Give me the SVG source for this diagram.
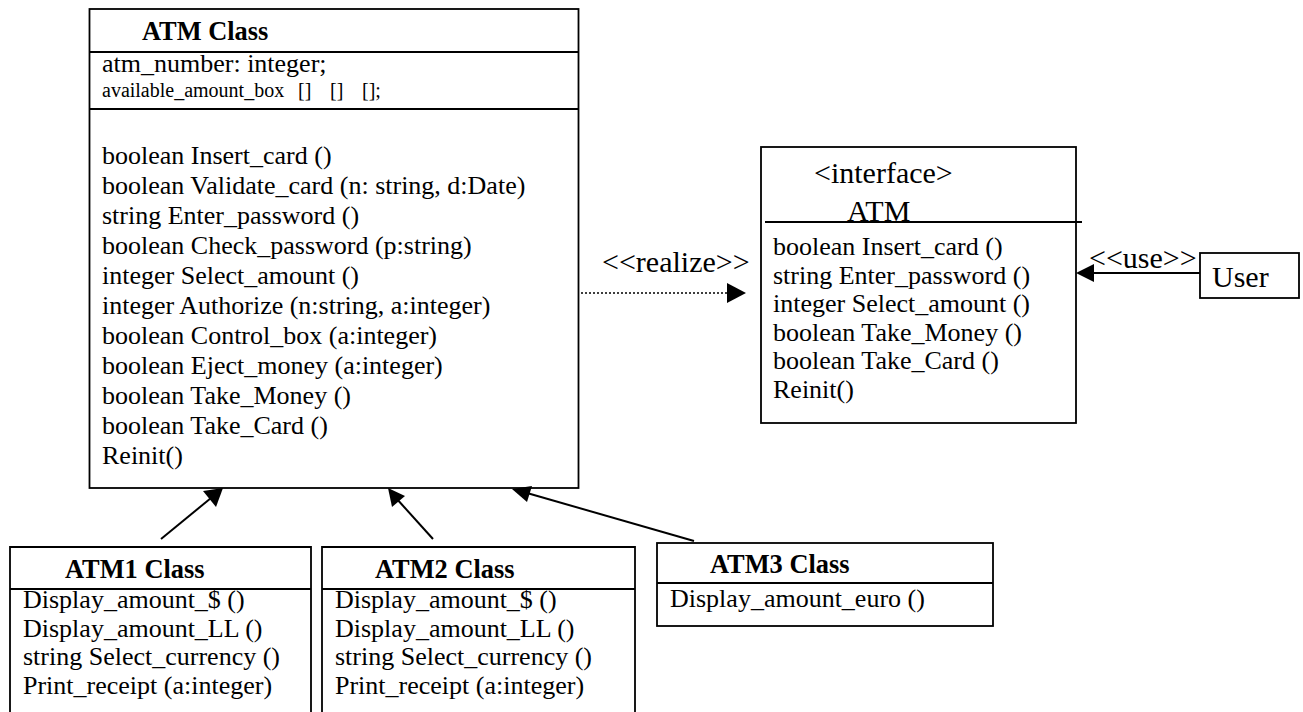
<svg xmlns="http://www.w3.org/2000/svg" width="1303" height="712" viewBox="0 0 1303 712">
  <style>
    text { font-family: "Liberation Serif", "Times New Roman", serif; fill: #000; }
    .t { font-size: 26px; }
    .small { font-size: 20px; }
    .big { font-size: 30px; }
    .title { font-size: 26.4px; font-weight: bold; }
    .box { fill: #fff; stroke: #000; stroke-width: 1.8; }
    .open { fill: none; stroke: #000; stroke-width: 1.8; }
    .rule { stroke: #000; stroke-width: 1.8; }
    .edge { stroke: #000; stroke-width: 2; fill: none; }
    .dotted { stroke: #000; stroke-width: 1.5; stroke-dasharray: 2 2; fill: none; }
    .head { fill: #000; }
  </style>
  <rect width="1303" height="712" fill="#fff"/>

  <!-- abstract ATM class -->
  <g id="atm-class">
    <rect class="box" x="89.5" y="9" width="489" height="479"/>
    <line class="rule" x1="89.5" y1="52" x2="578.5" y2="52"/>
    <line class="rule" x1="89.5" y1="109" x2="578.5" y2="109"/>
    <text class="title" x="142" y="40">ATM Class</text>
    <text class="t" x="102" y="72">atm_number: integer;</text>
    <text class="small" x="102" y="97">available_amount_box <tspan x="298">[]</tspan> <tspan x="330">[]</tspan> <tspan x="362">[];</tspan></text>
    <text class="t" x="102" y="164">boolean Insert_card ()</text>
    <text class="t" x="102" y="194">boolean Validate_card (n: string, d:Date)</text>
    <text class="t" x="102" y="224">string Enter_password ()</text>
    <text class="t" x="102" y="254">boolean Check_password (p:string)</text>
    <text class="t" x="102" y="284">integer Select_amount ()</text>
    <text class="t" x="102" y="314">integer Authorize (n:string, a:integer)</text>
    <text class="t" x="102" y="344">boolean Control_box (a:integer)</text>
    <text class="t" x="102" y="374">boolean Eject_money (a:integer)</text>
    <text class="t" x="102" y="404">boolean Take_Money ()</text>
    <text class="t" x="102" y="434">boolean Take_Card ()</text>
    <text class="t" x="102" y="464">Reinit()</text>
  </g>

  <!-- ATM interface -->
  <g id="atm-interface">
    <rect class="box" x="761" y="147" width="315" height="276"/>
    <line class="rule" x1="765" y1="222" x2="1082" y2="222"/>
    <text class="big" x="814" y="183">&lt;interface&gt;</text>
    <text class="big" x="847" y="221">ATM</text>
    <text class="t" x="773" y="255">boolean Insert_card ()</text>
    <text class="t" x="773" y="283.5">string Enter_password ()</text>
    <text class="t" x="773" y="312">integer Select_amount ()</text>
    <text class="t" x="773" y="340.5">boolean Take_Money ()</text>
    <text class="t" x="773" y="369">boolean Take_Card ()</text>
    <text class="t" x="773" y="397.5">Reinit()</text>
  </g>

  <!-- actor -->
  <g id="user">
    <rect class="box" x="1200" y="253" width="99" height="45"/>
    <text class="big" x="1212" y="287">User</text>
  </g>

  <!-- concrete subclasses -->
  <g id="atm1-class">
    <path class="open" d="M10,720 V547 H311 V720"/>
    <line class="rule" x1="10" y1="589" x2="311" y2="589"/>
    <text class="title" x="65" y="578">ATM1 Class</text>
    <text class="t" x="23" y="608">Display_amount_$ ()</text>
    <text class="t" x="23" y="636.5">Display_amount_LL ()</text>
    <text class="t" x="23" y="665">string Select_currency ()</text>
    <text class="t" x="23" y="693.5">Print_receipt (a:integer)</text>
  </g>

  <g id="atm2-class">
    <path class="open" d="M322,720 V547 H635 V720"/>
    <line class="rule" x1="322" y1="589" x2="635" y2="589"/>
    <text class="title" x="375" y="578">ATM2 Class</text>
    <text class="t" x="335" y="608">Display_amount_$ ()</text>
    <text class="t" x="335" y="636.5">Display_amount_LL ()</text>
    <text class="t" x="335" y="665">string Select_currency ()</text>
    <text class="t" x="335" y="693.5">Print_receipt (a:integer)</text>
  </g>

  <g id="atm3-class">
    <rect class="box" x="657" y="543" width="336" height="83"/>
    <line class="rule" x1="657" y1="583" x2="993" y2="583"/>
    <text class="title" x="710" y="573">ATM3 Class</text>
    <text class="t" x="670" y="607">Display_amount_euro ()</text>
  </g>

  <!-- connectors -->
  <g id="connectors">
    <!-- realization -->
    <line class="dotted" x1="581" y1="293" x2="728" y2="293"/>
    <polygon class="head" points="727,283 746,293 727,303"/>
    <text class="big" x="602" y="272">&lt;&lt;realize&gt;&gt;</text>
    <!-- usage -->
    <line class="edge" x1="1200" y1="273" x2="1092" y2="273"/>
    <polygon class="head" points="1094,264 1076,273 1094,282"/>
    <text class="big" x="1089" y="268">&lt;&lt;use&gt;&gt;</text>
    <!-- inheritance -->
    <line class="edge" x1="161" y1="539" x2="211" y2="498"/>
    <polygon class="head" points="223,488 216,507 203,491"/>
    <line class="edge" x1="433" y1="539" x2="396" y2="498"/>
    <polygon class="head" points="388,488 405,496 392,507"/>
    <line class="edge" x1="694" y1="541" x2="527" y2="493"/>
    <polygon class="head" points="512,489 532,486 527,502"/>
  </g>
</svg>
